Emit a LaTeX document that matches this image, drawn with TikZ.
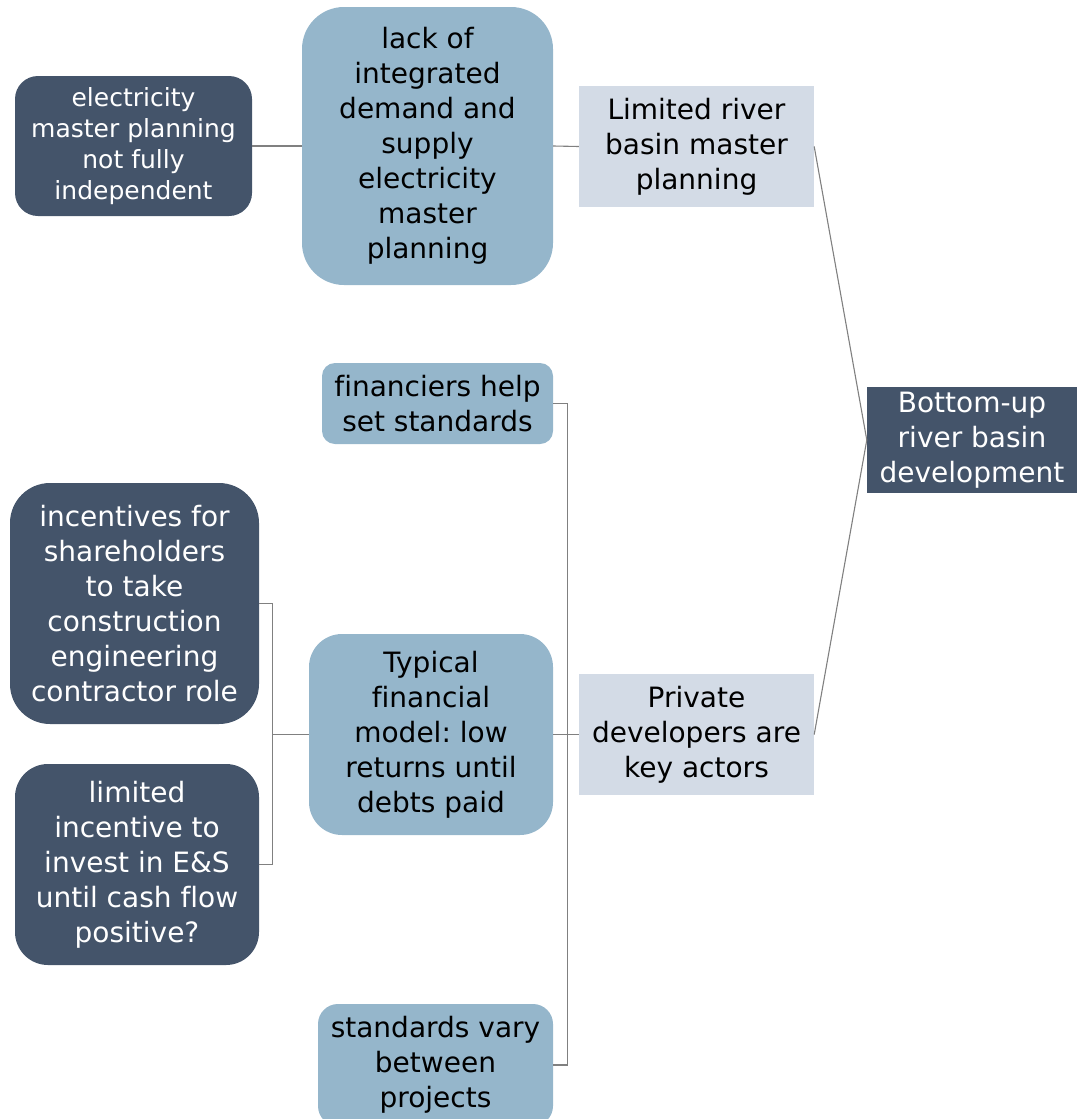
\documentclass[tikz,border=0pt]{standalone}
\usepackage{fontspec}
\setmainfont{DejaVu Sans}[Ligatures=NoCommon]
\usepackage{xcolor}
\usepackage{tikz}

\definecolor{navy}{HTML}{44546A}
\definecolor{steel}{HTML}{95B6CB}
\definecolor{mist}{HTML}{D3DBE6}

\frenchspacing

\begin{document}
\begin{tikzpicture}[x=1pt,y=-1pt,
  box/.style={rectangle, inner sep=0pt, align=center,
    font=\fontsize{28}{35}\selectfont},
  dark/.style={box, fill=navy, text=white},
  mid/.style={box, fill=steel, text=black},
  pale/.style={box, fill=mist, text=black},
  link/.style={draw=gray, line width=1.1pt}]
  \useasboundingbox (0,0) rectangle (1077,1119);
  \begin{scope}
  \clip (0,0) rectangle (1077,1119);
  % root and first level
  \node[dark, minimum width=210, minimum height=106] (root) at (972,440)
    {Bottom-up\\river basin\\development};
  \node[pale, minimum width=235, minimum height=121] (planning) at (696.5,146.5)
    {Limited river\\basin master\\planning};
  \node[pale, minimum width=235, minimum height=121] (developers) at (696.5,734.5)
    {Private\\developers are\\key actors};
  % planning branch
  \node[mid, rounded corners=42, minimum width=251, minimum height=278] (demand) at (427.5,146)
    {lack of\\integrated\\demand and\\supply\\electricity\\master\\planning};
  \node[dark, rounded corners=23, minimum width=237, minimum height=140,
    font=\fontsize{25}{31}\selectfont] (independence) at (133.5,146)
    {electricity\\master planning\\not fully\\independent};
  % developers branch
  \node[mid, rounded corners=13, minimum width=231, minimum height=81] (financiers) at (437.5,403.5)
    {financiers help\\set standards};
  \node[mid, rounded corners=33, minimum width=244, minimum height=201] (model) at (431,734.5)
    {Typical\\financial\\model: low\\returns until\\debts paid};
  \node[mid, rounded corners=20, minimum width=235, minimum height=122] (variation) at (435.5,1065)
    {standards vary\\between\\projects};
  \node[dark, rounded corners=40, minimum width=249, minimum height=241] (shareholders) at (134.5,603.5)
    {incentives for\\shareholders\\to take\\construction\\engineering\\contractor role};
  \node[dark, rounded corners=33, minimum width=244, minimum height=201] (investment) at (137,864.5)
    {limited\\incentive to\\invest in E\&S\\until cash flow\\positive?};
  \end{scope}
  % connectors
  \draw[link] (root.west) -- (planning.east);
  \draw[link] (root.west) -- (developers.east);
  \draw[link] (planning.west) -- (demand.east);
  \draw[link] (demand.west) -- (independence.east);
  \draw[link] (developers.west) -- (model.east);
  \draw[link] (financiers.east) -- ++(14,0) |- (variation.east);
  \draw[link] (model.west) -- ++(-37,0);
  \draw[link] (shareholders.east) -- ++(13,0) |- (investment.east);
\end{tikzpicture}
\end{document}
